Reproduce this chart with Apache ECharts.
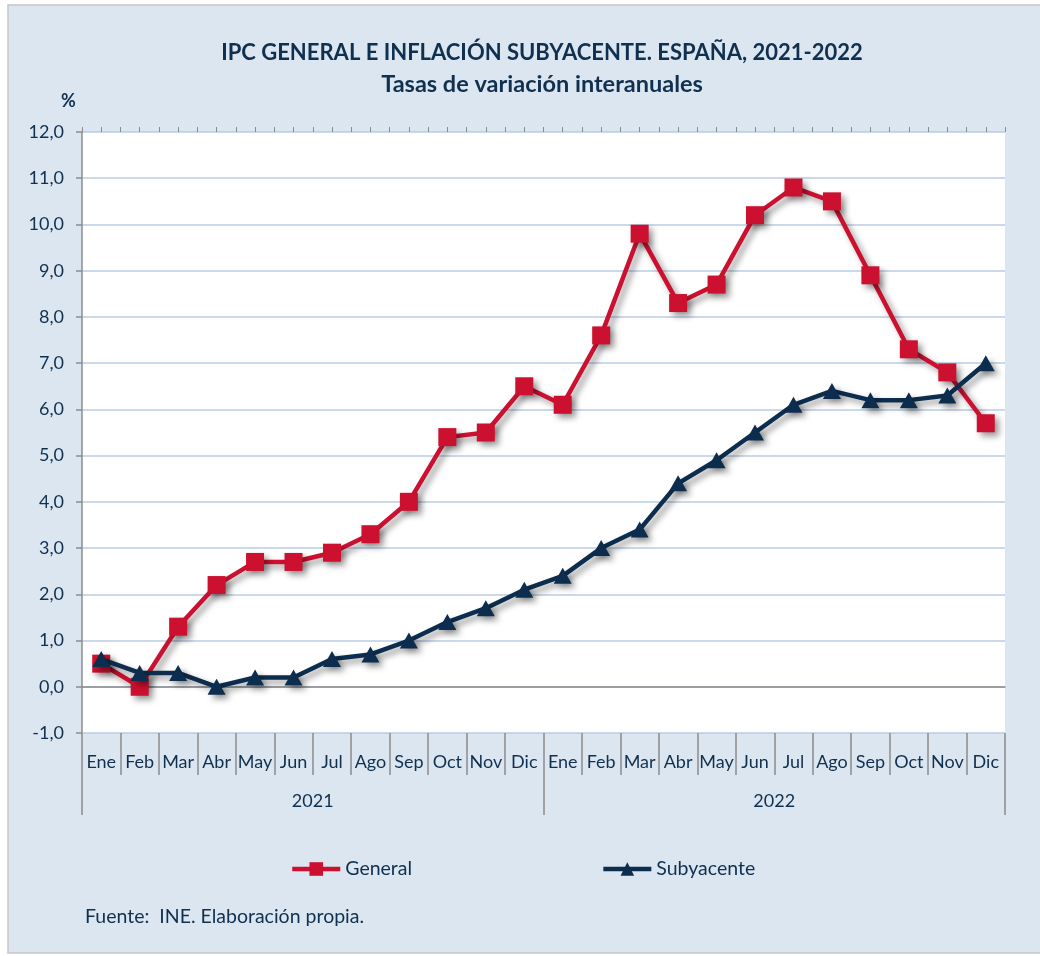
<!DOCTYPE html>
<html>
<head>
<meta charset="utf-8">
<script src="https://cdn.jsdelivr.net/npm/echarts@6/dist/echarts.min.js"></script>
<style>
  html, body { margin: 0; padding: 0; background: #fff; }
  #chart { width: 1040px; height: 956px; }
</style>
</head>
<body>
<div id="chart"></div>
<script>
/* datos */
const meses = ['Ene', 'Feb', 'Mar', 'Abr', 'May', 'Jun', 'Jul', 'Ago', 'Sep', 'Oct', 'Nov', 'Dic',
  'Ene', 'Feb', 'Mar', 'Abr', 'May', 'Jun', 'Jul', 'Ago', 'Sep', 'Oct', 'Nov', 'Dic']
const anios = ['2021', '2022']
const general = [0.5, 0.0, 1.3, 2.2, 2.7, 2.7, 2.9, 3.3, 4.0, 5.4, 5.5, 6.5,
  6.1, 7.6, 9.8, 8.3, 8.7, 10.2, 10.8, 10.5, 8.9, 7.3, 6.8, 5.7]
const subyacente = [0.6, 0.3, 0.3, 0.0, 0.2, 0.2, 0.6, 0.7, 1.0, 1.4, 1.7, 2.1,
  2.4, 3.0, 3.4, 4.4, 4.9, 5.5, 6.1, 6.4, 6.2, 6.2, 6.3, 7.0]

const txt = '#10304f'
const gris = '#8c8c8c'
const fuente = 'Lato, "Open Sans", sans-serif'

const chart = echarts.init(document.getElementById('chart'))

const sombra = {
  shadowColor: 'rgba(0,0,0,0.4)',
  shadowBlur: 6,
  shadowOffsetX: 4,
  shadowOffsetY: 4
}

chart.setOption({
  animation: false,
  textStyle: { fontFamily: fuente },
  graphic: [
    {
      type: 'rect', z: -10,
      shape: { x: 8, y: 5, width: 1040, height: 948 },
      style: { fill: '#dce6f1', stroke: '#c6c6c6', lineWidth: 1.5 }
    },
    {
      type: 'text', left: 61, top: 92,
      style: { text: '%', font: 'bold 18px ' + fuente, fill: txt }
    },
    {
      type: 'text', left: 85, top: 907,
      style: { text: 'Fuente:  INE. Elaboración propia.', font: '19.5px ' + fuente, fill: txt }
    }
  ],
  title: {
    text: 'IPC GENERAL E INFLACIÓN SUBYACENTE. ESPAÑA, 2021-2022',
    subtext: 'Tasas de variación interanuales',
    left: 537, textAlign: 'center', top: 37, itemGap: 8,
    textStyle: { fontSize: 22, fontWeight: 'bold', color: txt, fontFamily: fuente },
    subtextStyle: { fontSize: 23.5, fontWeight: 'bold', color: txt, fontFamily: fuente }
  },
  legend: {
    left: 290, top: 859, padding: 0, itemWidth: 48, itemHeight: 17, itemGap: 189,
    lineStyle: { width: 4.5 },
    textStyle: { fontSize: 19.5, color: txt, fontFamily: fuente },
    data: ['General', 'Subyacente']
  },
  grid: {
    left: 82, right: 35, top: 132, bottom: 223,
    show: true, backgroundColor: '#ffffff', borderWidth: 0
  },
  xAxis: [
    {
      // eje de datos, sobre el cero
      type: 'category', data: meses, boundaryGap: true,
      axisLine: { onZero: true, lineStyle: { color: gris, width: 1.5 } },
      axisTick: { show: false },
      axisLabel: { show: false }
    },
    {
      // marcas sobre el cero (cada medio mes)
      type: 'value', min: 0, max: 48, interval: 1,
      axisLine: { show: false, onZero: true },
      axisTick: { show: true, length: 5, lineStyle: { color: gris, width: 1 } },
      axisLabel: { show: false },
      splitLine: { show: false }
    },
    {
      // etiquetas de meses
      type: 'category', data: meses, position: 'bottom',
      axisLine: { show: false, onZero: false },
      axisTick: { show: true, interval: 0, length: 42, lineStyle: { color: gris, width: 1.5 } },
      axisLabel: { interval: 0, margin: 20, fontSize: 18, color: txt, fontFamily: fuente }
    },
    {
      // años
      type: 'category', data: anios, position: 'bottom',
      axisLine: { show: false, onZero: false },
      axisTick: { show: true, interval: 0, length: 82, lineStyle: { color: gris, width: 1.5 } },
      axisLabel: { interval: 0, margin: 59, fontSize: 18, color: txt, fontFamily: fuente }
    }
  ],
  yAxis: {
    type: 'value', min: -1, max: 12, interval: 1,
    axisLine: { show: true, lineStyle: { color: gris, width: 1.5 } },
    axisTick: { show: true, length: 6, lineStyle: { color: gris, width: 1.5 } },
    axisLabel: {
      margin: 18, fontSize: 18, color: txt, fontFamily: fuente,
      formatter: v => v.toFixed(1).replace('.', ',')
    },
    splitLine: { lineStyle: { color: '#b9cde5', width: 1.5 } }
  },
  series: [
    {
      name: 'General', type: 'line', data: general, xAxisIndex: 0,
      symbol: 'rect', symbolSize: 18, z: 3,
      lineStyle: Object.assign({ color: '#cc1030', width: 4.5 }, sombra),
      itemStyle: Object.assign({ color: '#cc1030' }, sombra)
    },
    {
      name: 'Subyacente', type: 'line', data: subyacente, xAxisIndex: 0,
      symbol: 'triangle', symbolSize: [18, 16], z: 4,
      lineStyle: Object.assign({ color: '#0c2d4e', width: 4.5 }, sombra),
      itemStyle: Object.assign({ color: '#0c2d4e' }, sombra)
    }
  ]
})
</script>
</body>
</html>
